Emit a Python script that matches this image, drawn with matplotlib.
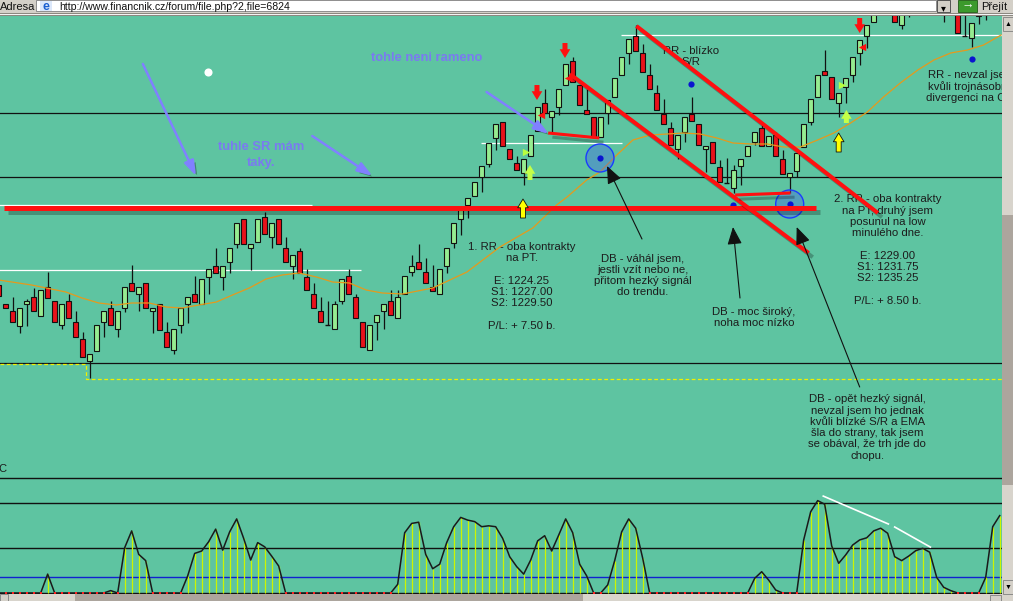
import matplotlib
matplotlib.use('Agg')
import matplotlib.pyplot as plt
import matplotlib.patheffects as pe
from matplotlib.patches import Rectangle, Ellipse, FancyArrowPatch
import numpy as np

plt.rcParams['font.family'] = ['Liberation Sans', 'DejaVu Sans']

# ---------------- data ----------------
opens = [1204.5,1202.6,1201.9,1200.4,1202.6,1203.3,1201.4,1204.3,1202.9,1200.5,
         1202.9,1200.8,1199.1,1196.9,1197.9,1200.8,1202.2,1200.1,1202.2,1204.7,
         1203.6,1204.7,1201.9,1202.6,1199.8,1198.0,1200.5,1202.6,1203.6,1202.6,
         1205.3,1206.4,1205.3,1206.8,1208.6,1211.1,1208.2,1208.8,1211.3,1209.3,
         1211.1,1208.2,1206.4,1207.9,1205.3,1203.6,1201.9,1200.55,1200.1,1202.9,
         1205.4,1203.3,1200.8,1198.0,1200.8,1201.9,1202.9,1201.2,1203.6,1205.8,
         1206.8,1205.8,1204.3,1203.6,1206.4,1208.7,1211.1,1212.5,1213.4,1215.3,
         1216.6,1219.2,1220.8,1218.1,1216.7,1215.7,1217.4,1219.9,1222.7,1221.3,
         1222.3,1224.5,1226.9,1224.5,1222.0,1221.3,1219.3,1221.7,1223.3,1225.5,
         1227.7,1229.4,1227.7,1225.5,1223.7,1221.6,1220.2,1218.1,1219.8,1221.6,
         1220.6,1218.1,1218.8,1216.3,1214.7,1214.2,1216.4,1217.4,1218.8,1220.2,
         1218.4,1219.5,1217.1,1215.3,1215.9,1218.3,1220.8,1223.3,1225.9,1225.3,
         1222.7,1224.3,1225.5,1227.7,1229.4,1230.8,1231.8,1233.5,1232.2,1230.5,
         1231.8,1233.0,1234.0,1233.0,1233.5,1231.8,1233.5,1233.0,1229.45,1229.2,
         1232.2,1231.5]
highs = [1205.4,1202.6,1203.3,1202.2,1203.1,1204.2,1204.0,1205.8,1202.9,1202.6,
         1203.6,1201.9,1199.8,1197.6,1200.5,1201.9,1202.9,1201.9,1204.3,1206.5,
         1204.3,1204.7,1202.2,1202.6,1200.8,1200.1,1202.2,1203.3,1205.4,1205.1,
         1206.1,1208.2,1206.4,1208.2,1210.7,1211.1,1208.6,1211.1,1211.8,1210.7,
         1211.1,1209.3,1207.5,1208.2,1206.1,1204.7,1203.3,1202.9,1202.9,1205.1,
         1206.1,1203.6,1200.8,1200.5,1201.5,1202.6,1204.0,1204.0,1205.4,1207.5,
         1208.6,1207.2,1206.5,1206.1,1208.2,1210.7,1212.0,1213.2,1214.8,1216.4,
         1218.7,1220.6,1220.8,1218.1,1217.4,1217.1,1219.5,1222.3,1224.1,1221.9,
         1224.1,1226.6,1227.3,1224.5,1224.1,1221.3,1221.3,1223.0,1225.2,1227.3,
         1229.1,1230.5,1228.6,1226.6,1224.5,1223.1,1220.8,1219.5,1221.3,1223.3,
         1220.6,1218.4,1218.8,1217.0,1217.2,1216.5,1217.1,1218.4,1219.8,1220.6,
         1219.4,1219.8,1218.0,1215.7,1217.7,1220.6,1223.1,1225.5,1228.0,1225.3,
         1223.7,1225.2,1227.3,1229.0,1230.5,1232.8,1233.5,1234.0,1233.0,1233.0,
         1233.5,1234.5,1235.0,1235.0,1234.5,1233.5,1234.5,1233.5,1231.5,1230.7,
         1233.0,1233.5]
lows = [1202.8,1202.2,1200.8,1199.7,1200.4,1201.9,1201.4,1203.2,1200.8,1200.1,
        1201.2,1199.3,1197.3,1195.2,1197.9,1199.3,1200.5,1199.3,1201.8,1203.9,
        1201.9,1202.2,1199.7,1200.0,1198.3,1197.6,1199.7,1200.7,1202.8,1202.6,
        1203.6,1205.7,1204.0,1205.7,1208.2,1208.6,1206.0,1208.8,1209.6,1208.2,
        1208.6,1206.8,1205.1,1205.7,1204.0,1202.2,1200.8,1200.5,1200.1,1202.6,
        1203.6,1201.2,1198.3,1198.0,1199.0,1200.1,1201.5,1201.2,1203.6,1205.4,
        1206.1,1204.7,1203.9,1203.6,1205.7,1208.2,1209.5,1211.2,1213.4,1213.8,
        1216.3,1218.0,1218.4,1217.1,1216.0,1214.5,1217.4,1219.9,1221.7,1219.7,
        1221.5,1224.5,1224.8,1222.5,1221.6,1219.3,1219.3,1220.6,1223.3,1225.5,
        1226.6,1227.9,1225.8,1224.1,1222.0,1220.6,1218.5,1217.1,1218.8,1220.9,
        1218.5,1215.8,1216.7,1214.8,1214.7,1213.7,1214.5,1217.4,1218.5,1218.4,
        1218.4,1217.4,1215.6,1213.7,1215.3,1218.3,1220.5,1223.3,1225.5,1223.1,
        1221.3,1222.7,1224.8,1226.5,1228.2,1230.8,1231.5,1231.8,1230.8,1230.1,
        1231.3,1232.2,1232.5,1232.4,1231.6,1230.8,1232.0,1229.7,1229.4,1228.3,
        1230.6,1231.0]
closes = [1203.4,1202.2,1200.8,1202.2,1202.9,1201.9,1204.0,1203.2,1200.8,1202.6,
          1201.2,1199.3,1197.3,1197.6,1200.5,1201.9,1200.5,1201.9,1204.3,1203.9,
          1204.3,1202.2,1202.2,1200.0,1198.3,1200.1,1202.2,1203.3,1202.8,1205.1,
          1206.1,1205.7,1206.4,1208.2,1210.7,1208.6,1208.6,1211.1,1209.6,1210.7,
          1208.6,1206.8,1207.5,1205.7,1204.0,1202.2,1200.8,1200.5,1202.6,1205.1,
          1203.6,1201.2,1198.3,1200.5,1201.5,1202.6,1201.5,1203.3,1205.4,1206.4,
          1206.1,1204.7,1203.9,1206.1,1208.2,1210.7,1212.0,1213.2,1214.8,1216.4,
          1218.7,1220.6,1218.4,1217.1,1216.0,1217.1,1219.5,1222.3,1221.7,1221.9,
          1224.1,1226.6,1224.8,1222.5,1221.6,1219.3,1221.3,1223.0,1225.2,1227.3,
          1229.1,1227.9,1225.8,1224.1,1222.0,1220.6,1218.5,1219.5,1221.3,1220.9,
          1218.5,1218.4,1216.7,1214.8,1214.7,1216.0,1217.1,1218.4,1219.8,1218.4,
          1219.4,1217.4,1215.6,1215.7,1217.7,1220.6,1223.1,1225.5,1225.5,1223.1,
          1223.7,1225.2,1227.3,1229.0,1230.5,1232.5,1233.0,1231.8,1230.8,1232.0,
          1233.0,1234.0,1233.0,1234.5,1232.0,1233.0,1232.5,1229.7,1229.4,1230.7,
          1231.4,1233.0]

ema_idx = [0.0,4.7,9.6,11.9,14.3,16.8,19.0,21.5,23.9,26.2,28.6,31.1,33.4,35.8,38.2,
           40.5,42.9,45.4,47.7,50.1,52.5,54.8,57.7,62.0,66.9,71.6,76.3,79.7,81.2,84.0,
           85.9,88.3,90.6,93.1,95.5,97.8,100.2,102.6,104.9,107.4,109.8,112.1,114.5,
           117.0,119.3,121.7,124.1,126.4,128.8,131.3,133.6,136.0,138.4,140.7,143.2]
ema_val = [1205.0,1204.5,1203.8,1203.2,1202.7,1202.5,1202.7,1202.7,1202.3,1202.2,
           1202.5,1202.8,1203.5,1204.2,1205.1,1205.5,1205.7,1205.3,1204.8,1204.7,
           1204.0,1203.7,1203.6,1204.2,1205.8,1208.3,1210.2,1212.5,1213.3,1215.0,
           1215.8,1217.5,1219.0,1219.5,1219.6,1219.7,1219.6,1219.2,1218.7,1218.6,
           1218.6,1218.3,1218.3,1219.0,1219.7,1220.7,1221.8,1223.3,1224.7,1226.0,
           1227.0,1227.7,1228.0,1228.5,1229.5]

osc = [0,0,0,0,0,0,0,63,0,0,0,0,0,0,0,0,8,0,151,207,
       129,108,0,0,0,0,0,57,132,140,171,213,143,204,247,182,110,168,154,123,
       90,0,0,0,0,0,0,0,0,0,0,0,0,0,0,0,0,29,201,232,
       236,129,81,96,168,221,252,243,238,221,224,221,182,121,88,63,110,174,191,140,
       193,247,201,96,57,0,0,27,108,204,247,216,116,0,0,0,0,0,0,0,
       0,0,0,0,0,0,0,0,49,71,43,10,0,0,0,177,271,308,296,157,
       99,127,160,177,184,207,216,199,121,108,123,141,149,136,52,19,8,0,0,0,
       0,52,221,258]
osc_levels = [0, 150, 300, 383]
osc_blue_level = 53

black_levels = [1221.7, 1215.3, 1196.7]
sr_white = [(0.0, 44.8, 1212.5), (0.0, 51.8, 1206.0), (68.9, 89.0, 1218.7), (88.9, 143.5, 1229.5)]
yellow_levels = [1196.6, 1195.1]
yellow_break = 12.46

support_red = (0.7, 116.7, 1212.25)
channel_upper = [(91.1, 1230.4), (125.6, 1211.7)]
channel_lower = [(81.6, 1225.6), (115.7, 1207.7)]
short_red = [[(78.5, 1219.7), (85.8, 1219.2)], [(105.2, 1213.5), (113.1, 1213.7)]]

TEAL = '#5ec4a1'
GREEN = '#96ec90'
RED = '#e8121a'

W, H = 1013, 601
fig = plt.figure(figsize=(W / 100, H / 100), dpi=100)
fig.patch.set_facecolor(TEAL)


def fbox(x0, y0, x1, y1):
    return [x0 / W, 1 - y1 / H, (x1 - x0) / W, (y1 - y0) / H]


ax = fig.add_axes(fbox(0, 16, 1002, 476))
ax2 = fig.add_axes(fbox(0, 476, 1002, 594))
for a in (ax, ax2):
    a.set_facecolor(TEAL)
    a.set_xticks([])
    a.set_yticks([])
    for s in a.spines.values():
        s.set_visible(False)
    a.set_xlim(0.19, 143.33)
ax.set_ylim(1185.4, 1231.4)
ax2.set_ylim(-3.3, 390)

# ---------------- main panel ----------------
xmin, xmax = ax.get_xlim()
for lv in black_levels:
    ax.axhline(lv, color='#111111', lw=0.9, zorder=1)
for x0, x1, lv in sr_white:
    ax.hlines(lv, x0, x1, color='white', lw=0.9, zorder=1)
ax.plot([xmin, yellow_break, yellow_break, xmax],
        [yellow_levels[0], yellow_levels[0], yellow_levels[1], yellow_levels[1]],
        color='#f0f000', lw=0.9, ls=(0, (3, 2)), zorder=1)

# candles
bw = 0.68
for i, (o, h, l, c) in enumerate(zip(opens, highs, lows, closes)):
    ax.vlines(i, l, h, color='#111111', lw=0.9, zorder=3)
    if abs(c - o) < 0.1:
        ax.hlines(c, i - bw / 2, i + bw / 2, color='#111111', lw=1.0, zorder=4)
    else:
        ax.add_patch(Rectangle((i - bw / 2, min(o, c)), bw, abs(c - o),
                               fc=GREEN if c > o else RED, ec='#111111', lw=0.8, zorder=4))

ax.plot(ema_idx, ema_val, color='#e59a1c', lw=0.9, zorder=5)

# text annotations
tkw = dict(ha='center', va='center', fontsize=8.2, color='#1c1c1c', linespacing=1.16, zorder=2)
ax.text(74.7, 1204.35, "1. RR - oba kontrakty\nna PT.\n\nE: 1224.25\nS1: 1227.00\nS2: 1229.50\n\nP/L: + 7.50 b.", **tkw)
ax.text(92.05, 1205.45, "DB - váhál jsem,\njestli vzít nebo ne,\npřitom hezký signál\ndo trendu.", **tkw)
ax.text(107.9, 1201.25, "DB - moc široký,\nnoha moc nízko", **tkw)
ax.text(127.0, 1208.0, "2. RR - oba kontrakty\nna PT, druhý jsem\nposunul na low\nminulého dne.\n\nE: 1229.00\nS1: 1231.75\nS2: 1235.25\n\nP/L: + 8.50 b.", **tkw)
ax.text(124.1, 1190.25, "DB - opět hezký signál,\nnevzal jsem ho jednak\nkvůli blízké S/R a EMA\nšla do strany, tak jsem\nse obával, že trh jde do\nchopu.", **tkw)
ax.text(98.9, 1227.35, "RR - blízko\nS/R", **tkw)
t7 = ax.text(138.9, 1224.35, "RR - nevzal jsem\nkvůli trojnásobné\ndivergenci na CCI", **tkw)
t7.set_clip_on(True)
ax.text(0.0, 1186.1, "C", ha='left', va='center', fontsize=8, color='#1c1c1c')

# purple notes
pkw = dict(ha='center', va='center', fontsize=9.4, fontweight='bold', linespacing=1.4,
           color='#7a7af0', zorder=6)
ax.text(61.1, 1227.2, "tohle neni rameno", **pkw)
ax.text(37.5, 1217.5, "tuhle SR mám\ntaky.", **pkw)

# red lines with shadow
lshadow = [pe.SimpleLineShadow(offset=(3, -3), shadow_color='k', alpha=0.25), pe.Normal()]
ax.hlines(support_red[2], support_red[0], support_red[1], color='#ff1010', lw=3.6, zorder=6,
          path_effects=lshadow)
for seg, lw in [(channel_upper, 2.9), (channel_lower, 2.9), (short_red[0], 2.2), (short_red[1], 2.2)]:
    ax.plot([p[0] for p in seg], [p[1] for p in seg], color='#ff1010', lw=lw, zorder=6,
            solid_capstyle='butt', path_effects=lshadow)

# blue circles and dots
for cx, cy in [(85.9, 1217.2), (113.0, 1212.6)]:
    ax.add_patch(Ellipse((cx, cy), 4.0, 2.8, fc=(0.25, 0.35, 0.95, 0.35), ec='#1a3cff', lw=1.0, zorder=5.5))
ax.scatter([85.9, 113.0, 98.9, 139.0, 104.9], [1217.2, 1212.6, 1224.6, 1227.1, 1212.5],
           s=20, color='#0a14d0', zorder=5.6, linewidths=0)
ax.scatter([29.9], [1225.8], s=34, color='white', zorder=5.6, linewidths=0)

# small triangle markers
ax.scatter([77.5, 81.3, 123.4], [1221.5, 1225.2, 1228.3], marker='<', s=28, color='#ff1010', zorder=7, linewidths=0)
ax.scatter([75.4, 120.5], [1217.8, 1224.5], marker='>', s=28, color='#b8ff40', zorder=7, linewidths=0)


def block_arrow(x, y0, y1, fc, ec, lw=0.6):
    a = FancyArrowPatch((x, y0), (x, y1),
                        arrowstyle='simple,head_length=0.7,head_width=0.85,tail_width=0.4',
                        mutation_scale=9, fc=fc, ec=ec, lw=lw, zorder=8, shrinkA=0, shrinkB=0)
    ax.add_patch(a)


for x, y0, y1 in [(80.9, 1228.7, 1227.2), (76.9, 1224.5, 1223.0), (123.0, 1231.2, 1229.7)]:
    block_arrow(x, y0, y1, '#ff1010', '#ff1010', 0)
for x, y0, y1 in [(74.9, 1211.2, 1213.1), (120.0, 1217.8, 1219.7)]:
    block_arrow(x, y0, y1, '#ffff00', '#111111', 0.6)
for x, y0, y1 in [(75.9, 1215.0, 1216.5), (121.1, 1220.7, 1222.0)]:
    block_arrow(x, y0, y1, '#c4ff48', '#c4ff48', 0)

# black arrows
for tail, tip in [((91.9, 1209.1), (86.9, 1216.4)),
                  ((105.9, 1203.2), (104.9, 1210.3)),
                  ((123.0, 1194.3), (114.0, 1210.3))]:
    ax.annotate('', xy=tip, xytext=tail, zorder=8,
                arrowprops=dict(arrowstyle='-|>,head_length=1.2,head_width=0.5', color='#111111',
                                lw=0.8, mutation_scale=9, shrinkA=0, shrinkB=0))

# purple arrows
for tail, tip in [((20.6, 1226.6), (28.2, 1215.4)),
                  ((44.8, 1219.4), (53.4, 1215.4)),
                  ((69.7, 1223.8), (78.6, 1219.6))]:
    an = ax.annotate('', xy=tip, xytext=tail, zorder=8,
                     arrowprops=dict(arrowstyle='-|>,head_length=0.9,head_width=0.3', color='#8080ff',
                                     lw=1.8, mutation_scale=10, shrinkA=0, shrinkB=0))
    an.arrow_patch.set_path_effects([pe.SimplePatchShadow(offset=(2, -2), shadow_rgbFace='k', alpha=0.3), pe.Normal()])

# ---------------- oscillator ----------------
idx = np.arange(len(osc))
ov = np.array(osc)
for lv in osc_levels:
    ax2.axhline(lv, color='#111111', lw=1.0, zorder=1)
ax2.axhline(osc_blue_level, color='#1020d0', lw=1.0, zorder=1)
nz = ov > 0
ax2.vlines(idx[nz], 0, ov[nz], color='#ccf500', lw=0.9, zorder=2)
ax2.plot(idx, ov, color='#1a1a1a', lw=1.1, zorder=3)
ax2.scatter(idx[~nz], ov[~nz], marker='s', s=1.5, color='#ff2020', zorder=4, linewidths=0)
ax2.plot([117.8, 127.1], [323, 230], color='white', lw=1.2, zorder=4)
ax2.plot([128.0, 133.1], [220, 153], color='white', lw=1.2, zorder=4)

# ---------------- window chrome ----------------
def frect(x0, y0, x1, y1, fc, ec='none', lw=0, z=10):
    fig.add_artist(Rectangle((x0 / W, 1 - y1 / H), (x1 - x0) / W, (y1 - y0) / H,
                             transform=fig.transFigure, fc=fc, ec=ec, lw=lw, zorder=z))

def ftext(x, y, s, **kw):
    fig.text(x / W, 1 - y / H, s, zorder=12, **kw)

frect(0, 0, 1013, 13, '#d4d0c8')
frect(0, 13, 1013, 16, '#8c8880')
frect(0, 14.2, 1013, 15, '#f4f4f4')
frect(36, 0, 936, 11, 'white', ec='#808080', lw=0.6)
ftext(0, 10, "Adresa", fontsize=8, color='#111111', va='baseline')
frect(40, 1, 52, 11, '#dce8fa', z=11)
ftext(46, 10, "e", fontsize=9, fontweight='bold', color='#1a5fd0', ha='center', va='baseline')
ftext(59, 10, "http://www.financnik.cz/forum/file.php?2,file=6824", fontsize=7.6, color='#111111', va='baseline')
frect(937, 0, 950, 12, '#d4d0c8', ec='#404040', lw=0.6)
ftext(943.5, 8, "▾", fontsize=7, color='k', ha='center', va='center')
frect(958, 0, 977, 12, '#3c9a2c', ec='#1e5a14', lw=0.6)
ftext(967.5, 6, "→", fontsize=9, fontweight='bold', color='white', ha='center', va='center')
ftext(981, 10, "Přejít", fontsize=8, color='#111111', va='baseline')

# right scrollbar
frect(1002, 16, 1013, 601, '#d8d4cc')
frect(1002, 215, 1013, 485, '#aca59d')
frect(1003, 17, 1013, 31, '#d4d0c8', ec='#808080', lw=0.6)
ftext(1008, 24, "▲", fontsize=5, color='k', ha='center', va='center')
frect(1003, 580, 1013, 594, '#d4d0c8', ec='#808080', lw=0.6)
ftext(1008, 587, "▼", fontsize=5, color='k', ha='center', va='center')
# bottom scrollbar
frect(0, 594, 1002, 601, '#d8d4cc')
frect(75, 594, 583, 601, '#aca59d')
frect(0, 594, 8, 601, '#d4d0c8', ec='#808080', lw=0.6)
frect(990, 595, 1001, 601, '#d4d0c8', ec='#808080', lw=0.6)

fig.savefig('out.png', dpi=100, facecolor=fig.get_facecolor())
